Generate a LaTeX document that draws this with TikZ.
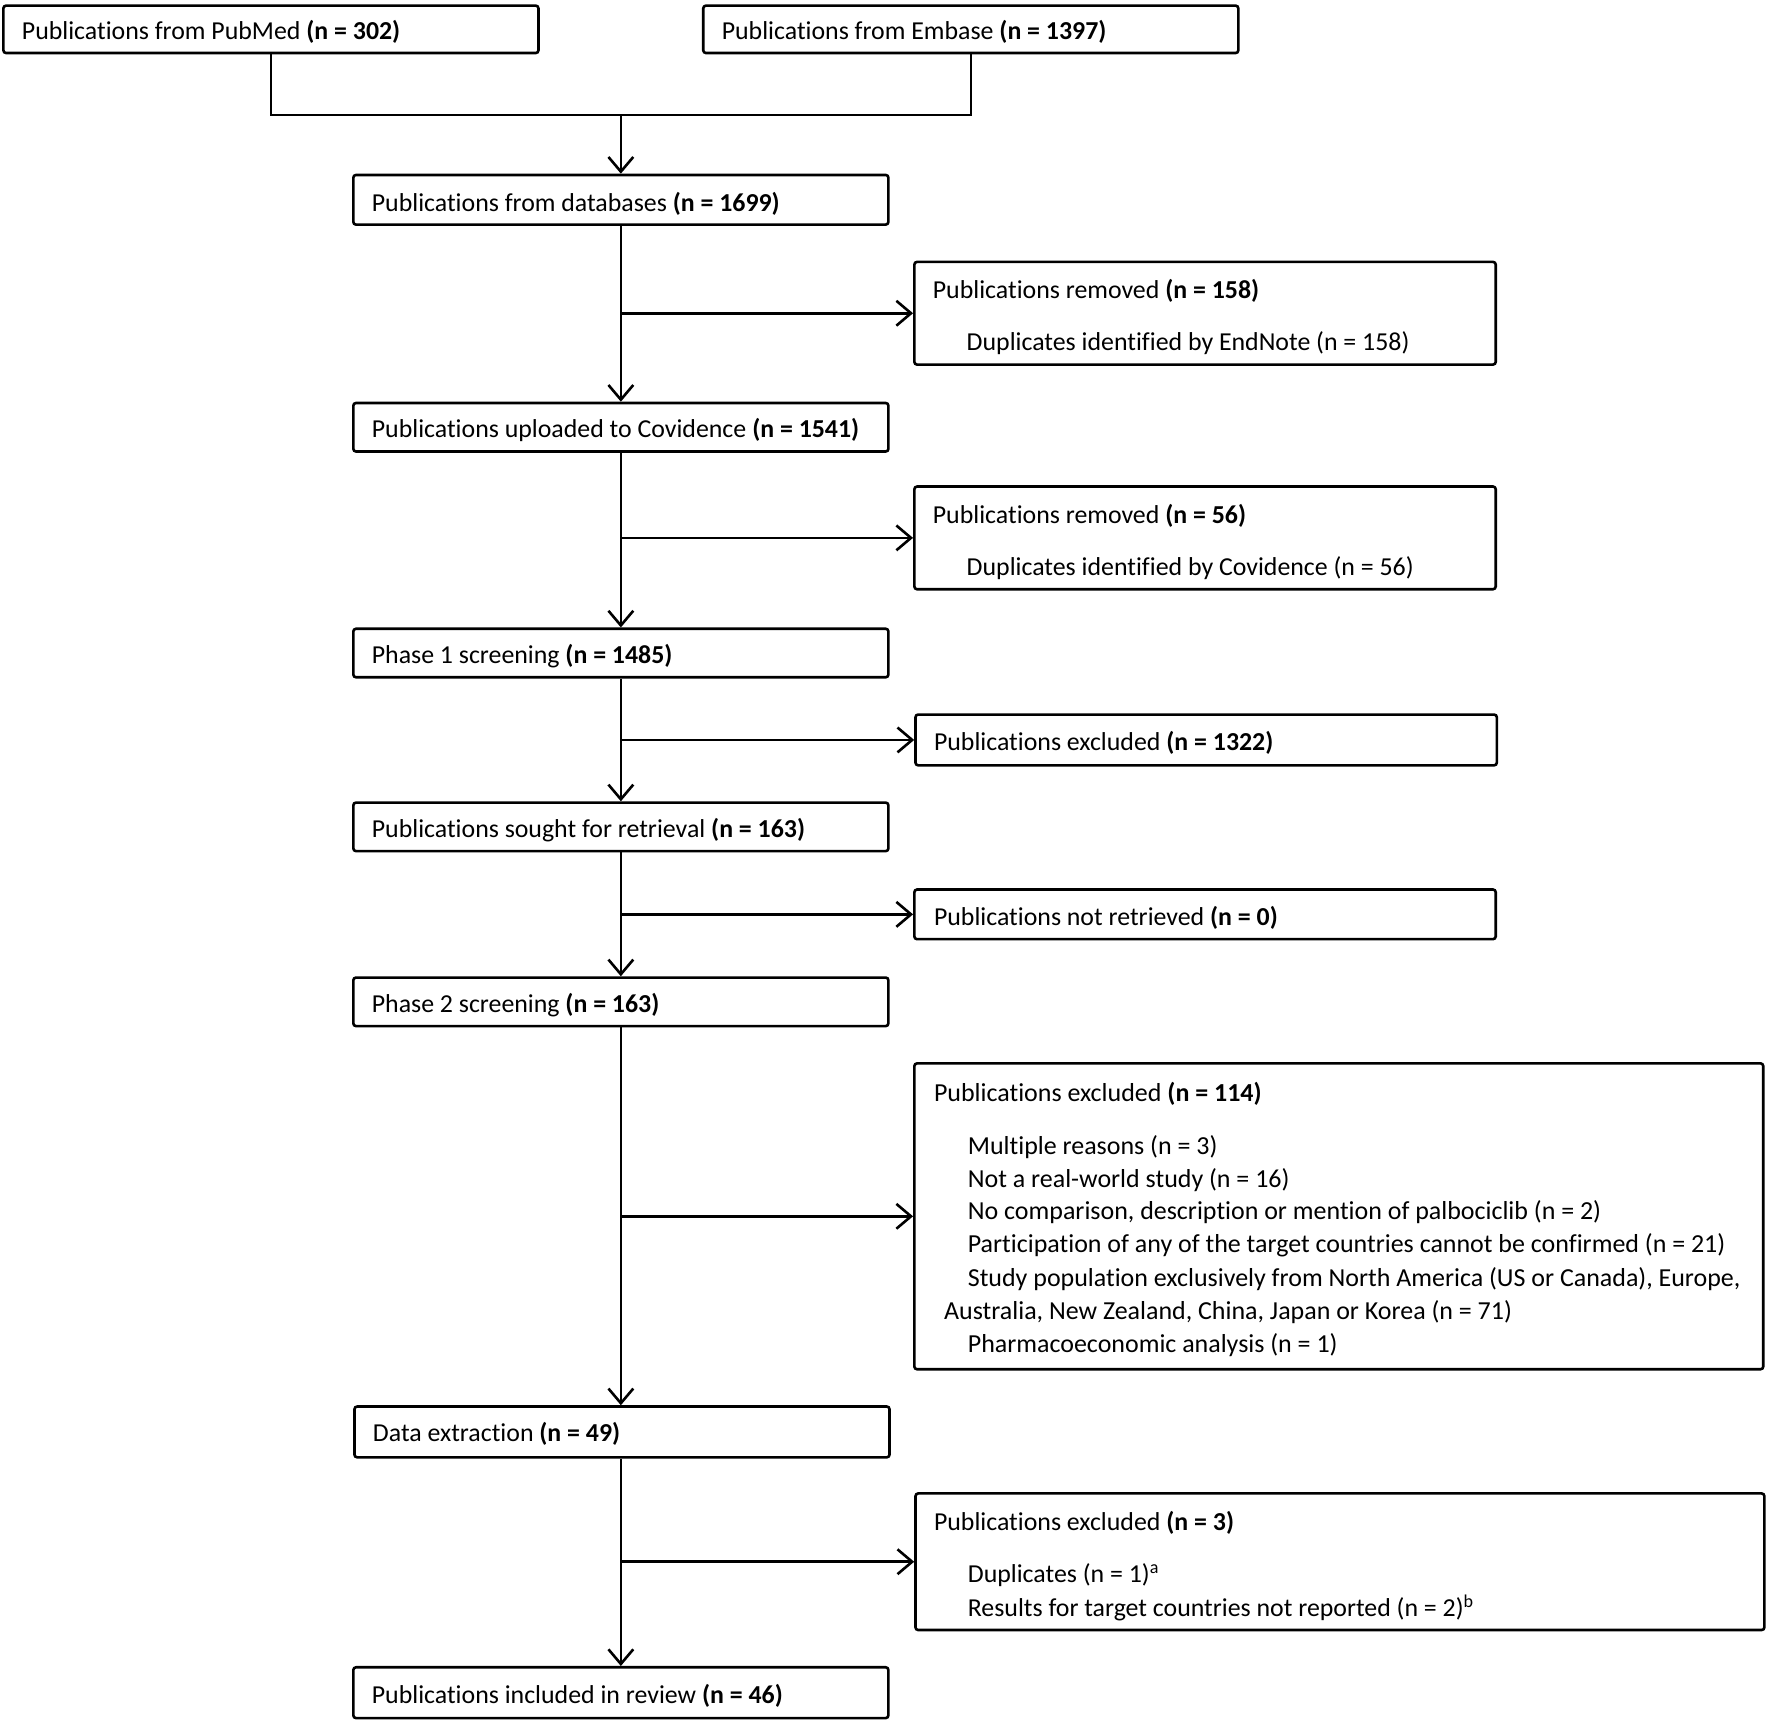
\documentclass[tikz,border=0pt]{standalone}
\usepackage{fontspec}
\setmainfont{Carlito}[Ligatures=NoCommon]
\usetikzlibrary{arrows.meta,fit}
\begin{document}
\begin{tikzpicture}[x=0.5pt,y=-0.5pt,
  box/.style={draw, line width=1.15pt, rounded corners=1.2pt, inner sep=0pt},
  txt/.style={anchor=west, inner sep=0pt, yshift=-1pt, font=\fontsize{11.45}{13}\selectfont},
  sml/.style={anchor=west, inner sep=0pt, yshift=-1pt, font=\fontsize{11.5}{13}\selectfont},
  arr/.style={line width=1.15pt, -{Straight Barb[length=6.5pt,width=11pt,line width=1.15pt]}},
  ln/.style={line width=1.15pt}]
\useasboundingbox (0,0) rectangle (1568,1529);
% main column boxes
\node[box, fit={(3,5) (477,47)}] (pm) {};
\node[txt] (pmt) at (19,26) {Publications from PubMed \textbf{(n = 302)}};
\node[box, fit={(623,5) (1097,47)}] (em) {};
\node[txt] (emt) at (639,26) {Publications from Embase \textbf{(n = 1397)}};
\node[box, fit={(313,155) (787,199)}] (db) {};
\node[txt] (dbt) at (329,179) {Publications from databases \textbf{(n = 1699)}};
\node[box, fit={(313,357) (787,400)}] (cov) {};
\node[txt] (covt) at (329,379) {Publications uploaded to Covidence \textbf{(n = 1541)}};
\node[box, fit={(313,557) (787,600)}] (ph1) {};
\node[txt] (ph1t) at (329,579) {Phase 1 screening \textbf{(n = 1485)}};
\node[box, fit={(313,711) (787,754)}] (sr) {};
\node[txt] (srt) at (329,733) {Publications sought for retrieval \textbf{(n = 163)}};
\node[box, fit={(313,866) (787,909)}] (ph2) {};
\node[txt] (ph2t) at (329,888) {Phase 2 screening \textbf{(n = 163)}};
\node[box, fit={(314,1246) (788,1291)}] (de) {};
\node[txt] (det) at (330,1268) {Data extraction \textbf{(n = 49)}};
\node[box, fit={(313,1477) (787,1522)}] (inc) {};
\node[txt] (inct) at (329,1500) {Publications included in review \textbf{(n = 46)}};
% side boxes
\node[box, fit={(810,232) (1325,323)}] (r1) {};
\node[txt] (r1a) at (826,256) {Publications removed \textbf{(n = 158)}};
\node[txt] (r1b) at (856,302) {Duplicates identified by EndNote (n = 158)};
\node[box, fit={(810,431) (1325,522)}] (r2) {};
\node[txt] (r2a) at (826,455) {Publications removed \textbf{(n = 56)}};
\node[txt] (r2b) at (856,501) {Duplicates identified by Covidence (n = 56)};
\node[box, fit={(811,633) (1326,678)}] (x1) {};
\node[txt] (x1a) at (827,656) {Publications excluded \textbf{(n = 1322)}};
\node[box, fit={(810,788) (1325,832)}] (nr) {};
\node[txt] (nra) at (827,811) {Publications not retrieved \textbf{(n = 0)}};
\node[box, fit={(810,942) (1562,1213)}] (x2) {};
\node[sml] (x2a) at (827,967) {Publications excluded \textbf{(n = 114)}};
\node[sml] (x2b) at (857,1014) {Multiple reasons (n = 3)};
\node[sml] (x2c) at (857,1043) {Not a real-world study (n = 16)};
\node[sml] (x2d) at (857,1072) {No comparison, description or mention of palbociclib (n = 2)};
\node[sml] (x2e) at (857,1101) {Participation of any of the target countries cannot be confirmed (n = 21)};
\node[sml] (x2f) at (857,1131) {Study population exclusively from North America (US or Canada), Europe,};
\node[sml] (x2g) at (836,1160) {Australia, New Zealand, China, Japan or Korea (n = 71)};
\node[sml] (x2h) at (857,1190) {Pharmacoeconomic analysis (n = 1)};
\node[box, fit={(811,1323) (1563,1444)}] (x3) {};
\node[txt] (x3a) at (827,1347) {Publications excluded \textbf{(n = 3)}};
\node[txt] (x3b) at (857,1393) {Duplicates (n = 1)\textsuperscript{a}};
\node[txt] (x3c) at (857,1422) {Results for target countries not reported (n = 2)\textsuperscript{b}};
% connectors
\coordinate (j) at (550,102);
\draw[ln] (pm.south) |- (j) -| (em.south);
\draw[arr] (j) -- (db.north);
\draw[arr] (db.south) -- (cov.north);
\draw[arr] (db.south |- r1.west) -- (r1.west);
\draw[arr] (cov.south) -- (ph1.north);
\draw[arr] (cov.south |- r2.west) -- (r2.west);
\draw[arr] (ph1.south) -- (sr.north);
\draw[arr] (ph1.south |- x1.west) -- (x1.west);
\draw[arr] (sr.south) -- (ph2.north);
\draw[arr] (sr.south |- nr.west) -- (nr.west);
\draw[arr] (ph2.south) -- (ph2.south |- de.north);
\draw[arr] (ph2.south |- x2.west) -- (x2.west);
\draw[arr] (de.south -| inc.north) -- (inc.north);
\draw[arr] (inc.north |- x3.west) -- (x3.west);
\end{tikzpicture}
\end{document}
